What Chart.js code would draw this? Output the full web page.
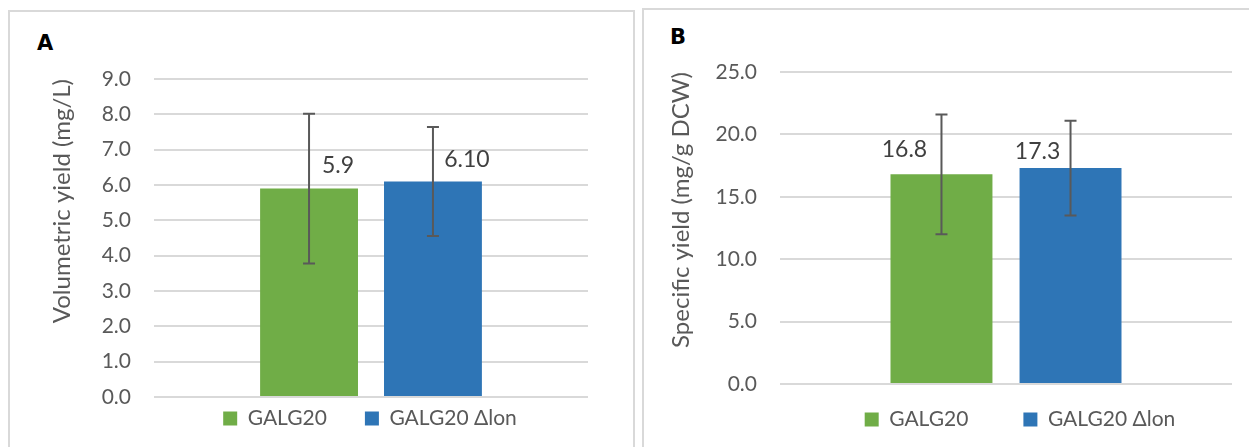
<!DOCTYPE html>
<html>
<head>
<meta charset="utf-8">
<script src="https://cdn.jsdelivr.net/npm/chart.js@4.4.1/dist/chart.umd.min.js"></script>
<style>
  body { margin: 0; width: 1249px; height: 447px; overflow: hidden; background: #fff; position: relative; }
  .panel { position: absolute; border: 2px solid #d9d9d9; box-sizing: border-box; }
  .letter { position: absolute; font: bold 21px "DejaVu Sans"; line-height: 21px; color: #000; }
  canvas { position: absolute; }
</style>
</head>
<body>
<div class="panel" style="left:8px; top:10px; width:627px; height:460px;"></div>
<div class="panel" style="left:642px; top:8px; width:700px; height:460px;"></div>
<div class="letter" style="left:37px; top:33px;">A</div>
<div class="letter" style="left:670px; top:27px;">B</div>
<canvas id="chartA" style="left:10px; top:12px;" width="623" height="435"></canvas>
<canvas id="chartB" style="left:644px; top:10px;" width="605" height="437"></canvas>
<script>
// data
const seriesNames = ["GALG20", "GALG20 \u0394lon"];
const seriesColors = ["#70ad47", "#2e75b6"];

const volumetric = [5.9, 6.1];
const volumetricErr = [2.12, 1.54];
const volumetricLabels = ["5.9", "6.10"];

const specific = [16.8, 17.3];
const specificErr = [4.8, 3.8];
const specificLabels = ["16.8", "17.3"];

const TEXT = "#595959";
const GRID = "#d9d9d9";

Chart.defaults.font.family = "Lato";
Chart.defaults.color = TEXT;

// error bars + data labels drawn from the scales
const barExtras = {
  id: "barExtras",
  afterDatasetsDraw(chart, args, opts) {
    const ctx = chart.ctx;
    const y = chart.scales.y;
    chart.data.datasets.forEach((ds, i) => {
      const bar = chart.getDatasetMeta(i).data[0];
      const v = ds.data[0];
      const e = opts.errors[i];
      const top = y.getPixelForValue(v + e);
      const bot = y.getPixelForValue(v - e);
      ctx.save();
      ctx.strokeStyle = "#595959";
      ctx.lineWidth = 2;
      ctx.beginPath();
      ctx.moveTo(bar.x, top);
      ctx.lineTo(bar.x, bot);
      ctx.moveTo(bar.x - 6, top);
      ctx.lineTo(bar.x + 6, top);
      ctx.moveTo(bar.x - 6, bot);
      ctx.lineTo(bar.x + 6, bot);
      ctx.stroke();

      ctx.fillStyle = "#404040";
      ctx.font = "23px Lato";
      ctx.textAlign = "center";
      ctx.textBaseline = "middle";
      const off = opts.offsets[i];
      ctx.fillText(opts.labels[i], bar.x + off[0], y.getPixelForValue(v) + off[1]);
      ctx.restore();
    });
  }
};

// put the legend where Excel has it
const legendPlace = {
  id: "legendPlace",
  beforeInit(chart, args, opts) {
    const legend = chart.legend;
    const fit = legend.fit;
    legend.fit = function () {
      fit.call(this);
      this.height = opts.height;
    };
  },
  beforeDraw(chart, args, opts) {
    const legend = chart.legend;
    const pad = legend.options.labels.padding;
    legend.left = opts.centerX - 300;
    legend.right = opts.centerX + 300;
    legend.top = opts.itemTop - pad;
  }
};

function makeChart(id, values, cfg) {
  return new Chart(document.getElementById(id), {
    type: "bar",
    data: {
      labels: [""],
      datasets: seriesNames.map((name, i) => ({
        label: name,
        data: [values[i]],
        backgroundColor: seriesColors[i],
        categoryPercentage: 0.571,
        barPercentage: 0.79
      }))
    },
    options: {
      responsive: false,
      animation: false,
      layout: { padding: { left: 0, top: cfg.top, right: cfg.right, bottom: 0 } },
      scales: {
        x: { display: false },
        y: {
          min: 0,
          max: cfg.max,
          border: { display: false },
          grid: { color: GRID, lineWidth: 2, drawTicks: false },
          ticks: {
            stepSize: cfg.step,
            padding: 23,
            color: TEXT,
            font: { size: 21 },
            callback: (v) => v.toFixed(1)
          },
          title: {
            display: true,
            text: cfg.title,
            align: "end",
            color: TEXT,
            font: { size: 24, lineHeight: 1.2 },
            padding: { top: cfg.titlePad, bottom: 0 }
          },
          afterFit(scale) { scale.width = cfg.axisWidth; }
        }
      },
      plugins: {
        tooltip: { enabled: false },
        legend: {
          position: "bottom",
          labels: {
            color: TEXT,
            font: { size: 21 },
            boxWidth: 14,
            boxHeight: 14,
            padding: cfg.legendGap
          }
        },
        legendPlace: { height: cfg.legendHeight, centerX: cfg.legendX, itemTop: cfg.legendY },
        barExtras: { errors: cfg.errors, labels: cfg.labels, offsets: cfg.offsets }
      }
    },
    plugins: [legendPlace, barExtras]
  });
}

makeChart("chartA", volumetric, {
  title: "Volumetric yield (mg/L)",
  max: 9, step: 1,
  top: 67, right: 45, axisWidth: 144, titlePad: 38,
  legendHeight: 50, legendGap: 38, legendX: 360, legendY: 396,
  errors: volumetricErr, labels: volumetricLabels,
  offsets: [[29, -23], [34, -22]]
});

makeChart("chartB", specific, {
  title: "Specific yield (mg/g DCW)",
  max: 25, step: 5,
  top: 62, right: 17, axisWidth: 136, titlePad: 23,
  legendHeight: 63, legendGap: 55, legendX: 376, legendY: 399,
  errors: specificErr, labels: specificLabels,
  offsets: [[-37, -25], [-33, -17]]
});
</script>
</body>
</html>
